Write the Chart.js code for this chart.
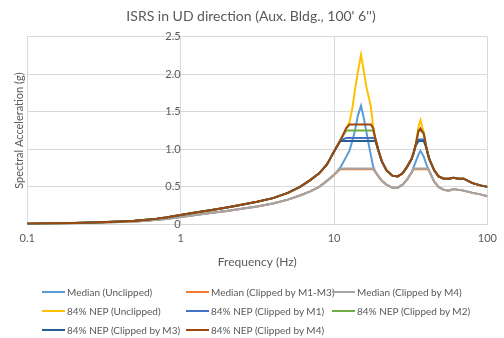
<!DOCTYPE html>
<html>
<head>
<meta charset="utf-8">
<script src="https://cdn.jsdelivr.net/npm/chart.js@4.4.0/dist/chart.umd.min.js"></script>
<style>
  html, body { margin: 0; padding: 0; background: #fff; }
  #wrap { position: relative; width: 504px; height: 338px; overflow: hidden; }
  #legend { position: absolute; left: 0; top: 0; width: 504px; height: 338px; pointer-events: none; }
  .item { position: absolute; height: 14px; display: flex; align-items: center; font-family: Lato, "Liberation Sans", sans-serif; font-size: 10px; color: #595959; white-space: nowrap; }
  .swatch { display: inline-block; width: 23px; height: 2px; margin-right: 2px; }
</style>
</head>
<body>
<div id="wrap">
  <canvas id="c" width="504" height="338"></canvas>
  <div id="legend"></div>
</div>
<script>
// ---- data ----
const freq = [0.1, 0.15, 0.2, 0.3, 0.4, 0.5, 0.6, 0.7, 0.8, 1,
  1.25, 1.6, 2, 2.5, 3.15, 4, 5, 6, 7, 8, 9,
  10, 11, 12, 12.6, 13.2, 13.7, 14.3, 15, 15.7, 16.3, 17, 17.4, 18, 18.6,
  19.5, 20.5, 22, 24, 26, 28, 30, 32,
  33, 34, 35.5, 36.6, 38.5, 40, 41,
  42, 45, 48, 52, 56, 60, 65, 70, 80, 90, 100];

const medianUnclipped = [0.008, 0.012, 0.016, 0.024, 0.032, 0.04, 0.05, 0.061, 0.073, 0.1,
  0.126, 0.154, 0.18, 0.208, 0.24, 0.278, 0.33, 0.385, 0.44, 0.5, 0.58,
  0.66, 0.76, 0.9, 0.98, 1.12, 1.25, 1.45, 1.58, 1.4, 1.22, 1.02, 0.92, 0.77, 0.7,
  0.64, 0.58, 0.53, 0.49, 0.49, 0.53, 0.6, 0.69,
  0.76, 0.83, 0.93, 0.98, 0.9, 0.8, 0.75,
  0.7, 0.57, 0.5, 0.46, 0.45, 0.47, 0.46, 0.45, 0.42, 0.4, 0.375];

const medianClippedM1M3 = [0.008, 0.012, 0.016, 0.024, 0.032, 0.04, 0.05, 0.061, 0.073, 0.1,
  0.126, 0.154, 0.18, 0.208, 0.24, 0.278, 0.33, 0.385, 0.44, 0.5, 0.58,
  0.66, 0.735, 0.735, 0.735, 0.735, 0.735, 0.735, 0.735, 0.735, 0.735, 0.735, 0.735, 0.735, 0.7,
  0.64, 0.58, 0.53, 0.49, 0.49, 0.53, 0.6, 0.69,
  0.735, 0.735, 0.735, 0.735, 0.735, 0.735, 0.735,
  0.7, 0.57, 0.5, 0.46, 0.45, 0.47, 0.46, 0.45, 0.42, 0.4, 0.375];

const medianClippedM4 = [0.008, 0.012, 0.016, 0.024, 0.032, 0.04, 0.05, 0.061, 0.073, 0.1,
  0.126, 0.154, 0.18, 0.208, 0.24, 0.278, 0.33, 0.385, 0.44, 0.5, 0.58,
  0.66, 0.745, 0.745, 0.745, 0.745, 0.745, 0.745, 0.745, 0.745, 0.745, 0.745, 0.745, 0.745, 0.7,
  0.64, 0.58, 0.53, 0.49, 0.49, 0.53, 0.6, 0.69,
  0.745, 0.745, 0.745, 0.745, 0.745, 0.745, 0.745,
  0.7, 0.57, 0.5, 0.46, 0.45, 0.47, 0.46, 0.45, 0.42, 0.4, 0.375];

const nep84Unclipped = [0.01, 0.015, 0.02, 0.03, 0.04, 0.05, 0.063, 0.077, 0.092, 0.125,
  0.158, 0.193, 0.226, 0.262, 0.302, 0.35, 0.42, 0.5, 0.59, 0.68, 0.8,
  0.97, 1.12, 1.28, 1.36, 1.56, 1.8, 2.03, 2.26, 2.02, 1.82, 1.66, 1.56, 1.3, 1.14,
  0.98, 0.84, 0.72, 0.65, 0.64, 0.68, 0.77, 0.87,
  0.95, 1.05, 1.3, 1.39, 1.22, 1.02, 0.93,
  0.86, 0.72, 0.64, 0.61, 0.61, 0.62, 0.61, 0.61, 0.55, 0.52, 0.5];

const nep84ClippedM1 = [0.01, 0.015, 0.02, 0.03, 0.04, 0.05, 0.063, 0.077, 0.092, 0.125,
  0.158, 0.193, 0.226, 0.262, 0.302, 0.35, 0.42, 0.5, 0.59, 0.68, 0.8,
  0.97, 1.12, 1.15, 1.15, 1.15, 1.15, 1.15, 1.15, 1.15, 1.15, 1.15, 1.15, 1.15, 1.14,
  0.98, 0.84, 0.72, 0.65, 0.64, 0.68, 0.77, 0.87,
  0.95, 1.05, 1.13, 1.13, 1.13, 1.02, 0.93,
  0.86, 0.72, 0.64, 0.61, 0.61, 0.62, 0.61, 0.61, 0.55, 0.52, 0.5];

const nep84ClippedM2 = [0.01, 0.015, 0.02, 0.03, 0.04, 0.05, 0.063, 0.077, 0.092, 0.125,
  0.158, 0.193, 0.226, 0.262, 0.302, 0.35, 0.42, 0.5, 0.59, 0.68, 0.8,
  0.97, 1.12, 1.25, 1.25, 1.25, 1.25, 1.25, 1.25, 1.25, 1.25, 1.25, 1.25, 1.25, 1.14,
  0.98, 0.84, 0.72, 0.65, 0.64, 0.68, 0.77, 0.87,
  0.95, 1.05, 1.25, 1.25, 1.22, 1.02, 0.93,
  0.86, 0.72, 0.64, 0.61, 0.61, 0.62, 0.61, 0.61, 0.55, 0.52, 0.5];

const nep84ClippedM3 = [0.01, 0.015, 0.02, 0.03, 0.04, 0.05, 0.063, 0.077, 0.092, 0.125,
  0.158, 0.193, 0.226, 0.262, 0.302, 0.35, 0.42, 0.5, 0.59, 0.68, 0.8,
  0.97, 1.11, 1.11, 1.11, 1.11, 1.11, 1.11, 1.11, 1.11, 1.11, 1.11, 1.11, 1.11, 1.11,
  0.98, 0.84, 0.72, 0.65, 0.64, 0.68, 0.77, 0.87,
  0.95, 1.05, 1.11, 1.11, 1.11, 1.02, 0.93,
  0.86, 0.72, 0.64, 0.61, 0.61, 0.62, 0.61, 0.61, 0.55, 0.52, 0.5];

const nep84ClippedM4 = [0.01, 0.015, 0.02, 0.03, 0.04, 0.05, 0.063, 0.077, 0.092, 0.125,
  0.158, 0.193, 0.226, 0.262, 0.302, 0.35, 0.42, 0.5, 0.59, 0.68, 0.8,
  0.97, 1.12, 1.28, 1.33, 1.33, 1.33, 1.33, 1.33, 1.33, 1.33, 1.33, 1.33, 1.28, 1.14,
  0.98, 0.84, 0.72, 0.65, 0.64, 0.68, 0.77, 0.87,
  0.95, 1.05, 1.24, 1.28, 1.2, 1.02, 0.93,
  0.86, 0.72, 0.64, 0.61, 0.61, 0.62, 0.61, 0.61, 0.55, 0.52, 0.5];

const seriesNames = [
  'Median (Unclipped)', 'Median (Clipped by M1-M3)', 'Median (Clipped by M4)',
  '84% NEP (Unclipped)', '84% NEP (Clipped by M1)', '84% NEP (Clipped by M2)',
  '84% NEP (Clipped by M3)', '84% NEP (Clipped by M4)'
];
const seriesValues = [medianUnclipped, medianClippedM1M3, medianClippedM4,
  nep84Unclipped, nep84ClippedM1, nep84ClippedM2, nep84ClippedM3, nep84ClippedM4];

const xTickValues = [0.1, 1, 10, 100];
const yTickStep = 0.5;

// ---- styling ----
const colors = ['#5B9BD5', '#ED7D31', '#A5A5A5', '#FFC000', '#4472C4', '#70AD47', '#255E91', '#9E480E'];
const textColor = '#595959';
const gridColor = '#D9D9D9';
const fontFamily = 'Lato, "Liberation Sans", sans-serif';

const datasets = seriesValues.map((vals, i) => ({
  label: seriesNames[i],
  data: freq.map((f, j) => ({ x: f, y: vals[j] })),
  borderColor: colors[i],
  backgroundColor: colors[i],
  borderWidth: 2,
  pointRadius: 0,
  tension: 0,
  fill: false,
  order: seriesValues.length - 1 - i
}));

new Chart(document.getElementById('c'), {
  type: 'line',
  data: { datasets },
  options: {
    responsive: false,
    animation: false,
    devicePixelRatio: 1,
    layout: { padding: { left: 9, right: 11, top: 0, bottom: 64 } },
    plugins: {
      legend: { display: false },
      tooltip: { enabled: false },
      title: {
        display: true,
        text: "ISRS in UD direction (Aux. Bldg., 100' 6'')",
        color: textColor,
        font: { family: fontFamily, size: 14, weight: 'normal' },
        padding: { top: 8, bottom: 12 }
      }
    },
    scales: {
      x: {
        type: 'logarithmic',
        position: 'bottom',
        min: 0.1,
        max: 100,
        afterBuildTicks: (scale) => { scale.ticks = xTickValues.map(v => ({ value: v, major: true })); },
        ticks: {
          color: textColor,
          font: { family: fontFamily, size: 11 },
          padding: 7,
          maxRotation: 0,
          autoSkip: false,
          callback: (v) => String(v)
        },
        grid: { color: gridColor, drawTicks: false, lineWidth: 1 },
        border: { color: gridColor },
        title: {
          display: true,
          text: 'Frequency (Hz)',
          color: textColor,
          font: { family: fontFamily, size: 12 },
          padding: { top: 3, bottom: 5 }
        }
      },
      y: {
        type: 'linear',
        position: { x: 1 },
        min: 0,
        max: 2.5,
        ticks: {
          stepSize: yTickStep,
          color: textColor,
          font: { family: fontFamily, size: 11 },
          padding: 9
        },
        grid: { color: gridColor, drawTicks: false },
        border: { color: gridColor }
      },
      yt: {
        type: 'linear',
        position: 'left',
        min: 0,
        max: 2.5,
        ticks: { display: false },
        grid: { display: false, drawTicks: false },
        border: { display: false },
        title: {
          display: true,
          text: 'Spectral Acceleration (g)',
          color: textColor,
          font: { family: fontFamily, size: 11 },
          padding: { top: 4, bottom: 1 }
        }
      }
    }
  }
});

// ---- legend (three columns, like the reference) ----
const legendEl = document.getElementById('legend');
const colX = [42, 186, 332];
const rowY = [292, 311, 330];
seriesNames.forEach((name, i) => {
  const item = document.createElement('div');
  item.className = 'item';
  item.style.left = colX[i % 3] + 'px';
  item.style.top = (rowY[Math.floor(i / 3)] - 7) + 'px';
  const sw = document.createElement('span');
  sw.className = 'swatch';
  sw.style.background = colors[i];
  item.appendChild(sw);
  item.appendChild(document.createTextNode(name));
  legendEl.appendChild(item);
});
</script>
</body>
</html>
